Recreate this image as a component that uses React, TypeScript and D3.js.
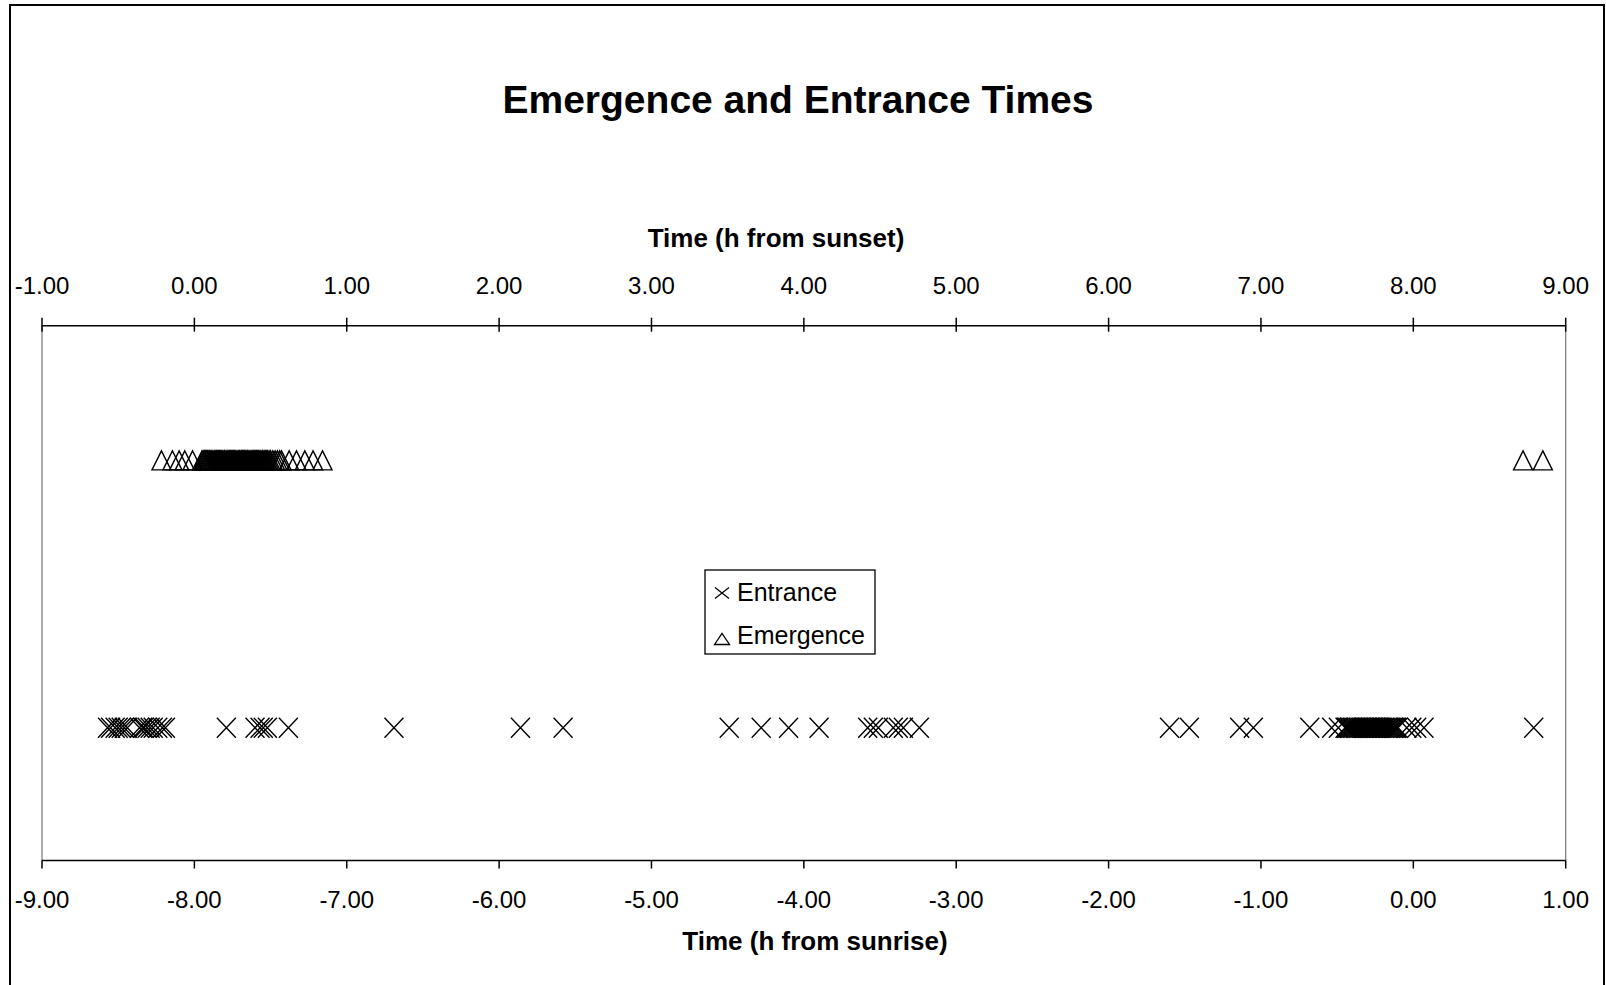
import React from "react";
import * as d3 from "d3";

// Emergence times, hours from sunset (top axis)
const emergenceTimes = [
  -0.216, -0.144, -0.1, -0.063, -0.012,
  0.05, 0.058, 0.065, 0.072, 0.08, 0.087, 0.095, 0.1, 0.108, 0.115, 0.122, 0.13, 0.137,
  0.145, 0.15, 0.158, 0.165, 0.172, 0.18, 0.187, 0.195, 0.2, 0.208, 0.215, 0.222, 0.23,
  0.237, 0.245, 0.25, 0.258, 0.265, 0.272, 0.28, 0.287, 0.295, 0.3, 0.308, 0.315, 0.322,
  0.33, 0.337, 0.345, 0.35, 0.358, 0.365, 0.372, 0.38, 0.387, 0.395, 0.4, 0.408, 0.415,
  0.422, 0.43, 0.437, 0.445, 0.45, 0.458, 0.465, 0.472, 0.48, 0.49, 0.5, 0.515, 0.53,
  0.545, 0.56, 0.572,
  0.622, 0.67, 0.725, 0.779, 0.841,
  8.72, 8.85,
];

// Entrance times, hours from sunrise (bottom axis)
const entranceTimes = [
  -8.57, -8.55, -8.52, -8.5, -8.48, -8.46, -8.44, -8.36, -8.34, -8.33, -8.31, -8.29,
  -8.27, -8.24, -8.21, -8.19,
  -7.79,
  -7.602, -7.569, -7.548, -7.521, -7.383,
  -6.69,
  -5.86, -5.58,
  -4.49, -4.28, -4.1, -3.9,
  -3.581, -3.544, -3.511, -3.413, -3.38, -3.347, -3.242,
  -1.6, -1.47,
  -1.14, -1.05,
  -0.68,
  -0.536, -0.492,
  -0.448, -0.44, -0.43, -0.42, -0.41, -0.4, -0.39, -0.38, -0.37, -0.36, -0.35, -0.34,
  -0.33, -0.32, -0.31, -0.3, -0.29, -0.28, -0.27, -0.26, -0.25, -0.24, -0.23, -0.22,
  -0.21, -0.2, -0.19, -0.18, -0.17, -0.16, -0.15, -0.14, -0.13, -0.12, -0.11, -0.1,
  -0.043, -0.01, 0.022, 0.07,
  0.79,
];

const topTicks = [-1, 0, 1, 2, 3, 4, 5, 6, 7, 8, 9];
const bottomTicks = [-9, -8, -7, -6, -5, -4, -3, -2, -1, 0, 1];

const seriesNames = ["Entrance", "Emergence"];
const titleText = "Emergence and Entrance Times";
const topAxisTitle = "Time (h from sunset)";
const bottomAxisTitle = "Time (h from sunrise)";

const FONT = "'Liberation Sans', Arial, Helvetica, sans-serif";

function trianglePath(cx: number, cy: number, hw: number, hh: number) {
  return `M${cx - hw},${cy + hh}L${cx},${cy - hh}L${cx + hw},${cy + hh}Z`;
}
function crossPath(cx: number, cy: number, hw: number, hh: number) {
  return `M${cx - hw},${cy - hh}L${cx + hw},${cy + hh}M${cx - hw},${cy + hh}L${cx + hw},${cy - hh}`;
}

const locale = d3.formatLocale({
  decimal: ".",
  thousands: ",",
  grouping: [3],
  currency: ["", ""],
  minus: "-",
});
const fmt = locale.format(".2f");

export default function App() {
  const W = 1606;
  const H = 985;
  const x0 = 42;
  const x1 = 1565.7;
  const yTop = 325.7;
  const yBot = 860.5;

  const xTop = d3.scaleLinear().domain([-1, 9]).range([x0, x1]);
  const xBot = d3.scaleLinear().domain([-9, 1]).range([x0, x1]);
  const y = d3.scaleLinear().domain([0, 4]).range([yBot, yTop]);
  const emergenceRow = 3;
  const entranceRow = 1;

  return (
    <svg
      width={W}
      height={H}
      style={{ position: "absolute", left: 0, top: 0, background: "#fff" }}
      fontFamily={FONT}
    >
      <rect x={0} y={0} width={W} height={H} fill="#fff" />
      {/* outer frame */}
      <rect x={10} y={5} width={1594} height={1000} fill="none" stroke="#000" strokeWidth={2} />

      {/* title */}
      <text x={798} y={113} textAnchor="middle" fontSize={39} fontWeight="bold" fill="#000">
        {titleText}
      </text>

      {/* plot area side borders */}
      <line x1={x0} x2={x0} y1={yTop} y2={yBot} stroke="#808080" strokeWidth={1.3} />
      <line x1={x1} x2={x1} y1={yTop} y2={yBot} stroke="#808080" strokeWidth={1.3} />

      {/* top axis */}
      <line x1={x0} x2={x1} y1={yTop} y2={yTop} stroke="#000" strokeWidth={1.5} />
      {topTicks.map((t) => (
        <g key={"tt" + t}>
          <line x1={xTop(t)} x2={xTop(t)} y1={yTop - 8} y2={yTop + 6} stroke="#000" strokeWidth={1.5} />
          <text x={xTop(t)} y={294} textAnchor="middle" fontSize={24} fill="#000">
            {fmt(t)}
          </text>
        </g>
      ))}
      <text x={776} y={247} textAnchor="middle" fontSize={26} fontWeight="bold" fill="#000">
        {topAxisTitle}
      </text>

      {/* bottom axis */}
      <line x1={x0} x2={x1} y1={yBot} y2={yBot} stroke="#000" strokeWidth={1.5} />
      {bottomTicks.map((t) => (
        <g key={"bt" + t}>
          <line x1={xBot(t)} x2={xBot(t)} y1={yBot} y2={yBot + 8} stroke="#000" strokeWidth={1.5} />
          <text x={xBot(t)} y={908} textAnchor="middle" fontSize={24} fill="#000">
            {fmt(t)}
          </text>
        </g>
      ))}
      <text x={815} y={950} textAnchor="middle" fontSize={26} fontWeight="bold" fill="#000">
        {bottomAxisTitle}
      </text>

      {/* emergence markers */}
      <g fill="none" stroke="#000" strokeWidth={1.4}>
        {emergenceTimes.map((v, i) => (
          <path key={"em" + i} d={trianglePath(xTop(v), y(emergenceRow) + 1, 9.5, 9.5)} />
        ))}
      </g>

      {/* entrance markers */}
      <g fill="none" stroke="#000" strokeWidth={1.4}>
        {entranceTimes.map((v, i) => (
          <path key={"en" + i} d={crossPath(xBot(v), y(entranceRow) + 1, 9.5, 10)} />
        ))}
      </g>

      {/* legend */}
      <rect x={705} y={570} width={170} height={84} fill="#fff" stroke="#000" strokeWidth={1.3} />
      <path d={crossPath(722, 593, 7, 5.5)} fill="none" stroke="#000" strokeWidth={1.3} />
      <text x={737} y={601} fontSize={25} fill="#000">
        {seriesNames[0]}
      </text>
      <path d={trianglePath(722, 639, 7.5, 5.5)} fill="none" stroke="#000" strokeWidth={1.3} />
      <text x={737} y={644} fontSize={25} fill="#000">
        {seriesNames[1]}
      </text>
    </svg>
  );
}
